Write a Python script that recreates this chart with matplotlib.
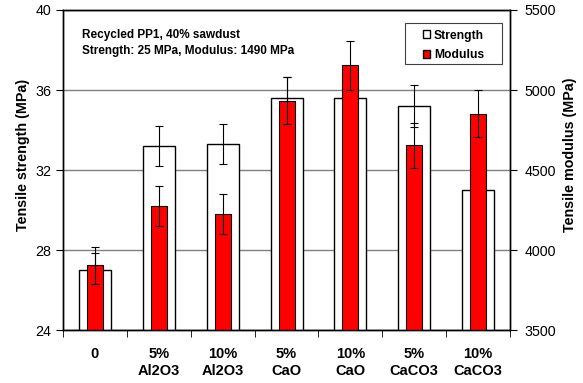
import numpy as np
import matplotlib
matplotlib.use('Agg')
import matplotlib.pyplot as plt
from matplotlib.patches import Patch, Rectangle

plt.rcParams['font.family'] = ['Liberation Sans', 'DejaVu Sans']

categories = ['0', '5%\nAl2O3', '10%\nAl2O3', '5%\nCaO', '10%\nCaO', '5%\nCaCO3', '10%\nCaCO3']
strength = [27.0, 33.2, 33.3, 35.6, 35.6, 35.2, 31.0]
strength_err = [0.85, 1.0, 1.0, 1.05, 1.0, 1.03, 1.0]
modulus = [3905, 4277, 4223, 4934, 5154, 4654, 4852]
modulus_err = [117, 125, 125, 147, 154, 139, 145]

x = np.arange(len(categories))

fig = plt.figure(figsize=(5.83, 3.83), dpi=100)
ax = fig.add_axes([0.108, 0.138, 0.767, 0.836])
ax2 = ax.twinx()

ax.bar(x, strength, width=0.5, color='white', edgecolor='black', linewidth=1, zorder=2)
ax.errorbar(x, strength, yerr=strength_err, fmt='none', ecolor='black',
            elinewidth=0.8, capsize=3, capthick=0.8, zorder=3)
ax.set_ylim(24, 40)
ax.set_yticks([24, 28, 32, 36, 40])
ax.set_xlim(-0.5, len(categories) - 0.5)
ax.yaxis.grid(True, color='#808080', linewidth=1)
ax.set_axisbelow(True)
ax.set_ylabel('Tensile strength (MPa)', fontsize=10.3, fontweight='bold')
ax.yaxis.set_label_coords(-0.074, 0.547)

ax2.bar(x, modulus, width=0.25, color='#ff0000', edgecolor='black', linewidth=0.8, zorder=2)
ax2.errorbar(x, modulus, yerr=modulus_err, fmt='none', ecolor='black',
             elinewidth=0.8, capsize=3, capthick=0.8, zorder=3)
ax2.set_ylim(3500, 5500)
ax2.set_yticks([3500, 4000, 4500, 5000, 5500])
ax2.set_ylabel('Tensile modulus (MPa)', fontsize=10.3, fontweight='bold')
ax2.yaxis.set_label_coords(1.119, 0.547)

ax.set_xticks(x)
ax.set_xticklabels(categories, fontsize=10.5, fontweight='bold', linespacing=1.3)
ax.set_xticks(np.arange(len(categories) + 1) - 0.5, minor=True)
ax.tick_params(axis='x', which='major', length=0, pad=12)
ax.tick_params(axis='x', which='minor', length=5, direction='out')
ax.tick_params(axis='y', labelsize=10.3, length=5, direction='out', pad=3.5)
ax2.tick_params(axis='y', labelsize=10.3, length=5, direction='out', pad=5.5)

for a in (ax, ax2):
    for s in a.spines.values():
        s.set_linewidth(1)

ax.text(0.042, 0.94, 'Recycled PP1, 40% sawdust\nStrength: 25 MPa, Modulus: 1490 MPa',
        transform=ax.transAxes, fontsize=8.5, fontweight='bold', va='top', ha='left',
        linespacing=1.45)

# legend frame drawn separately to get the wide side padding
ax2.add_patch(Rectangle((0.765, 0.831), 0.217, 0.128, transform=ax2.transAxes,
                        facecolor='white', edgecolor='#404040', linewidth=0.8, zorder=5))
handles = [Patch(facecolor='white', edgecolor='black', label='Strength'),
           Patch(facecolor='#ff0000', edgecolor='black', label='Modulus')]
leg = ax2.legend(handles=handles, loc='center', bbox_to_anchor=(0.8735, 0.889),
                 prop={'weight': 'bold', 'size': 8.7}, frameon=False,
                 handlelength=0.6, handleheight=0.6, handletextpad=0.3, borderpad=0.2,
                 labelspacing=0.65)
leg.set_zorder(6)

fig.savefig('out.png', dpi=100)
